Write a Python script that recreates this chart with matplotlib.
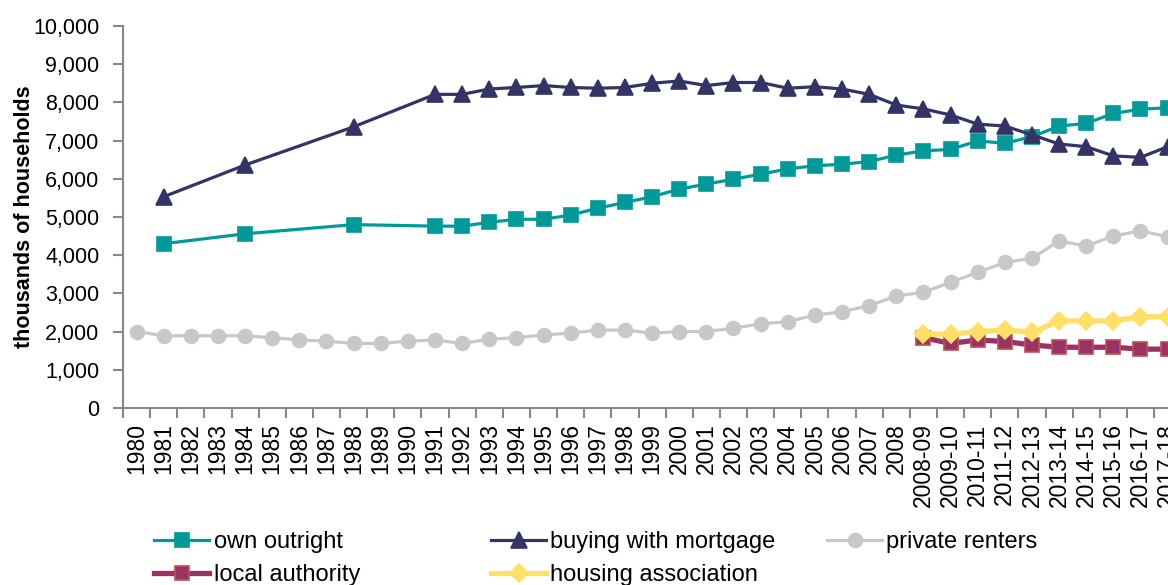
import numpy as np
import matplotlib.pyplot as plt
from matplotlib.ticker import FuncFormatter, FixedLocator

plt.rcParams['font.family'] = ['Liberation Sans', 'DejaVu Sans']

# categories (years, then financial years)
years = [str(y) for y in range(1980, 2009)] + [
    '2008-09', '2009-10', '2010-11', '2011-12', '2012-13',
    '2013-14', '2014-15', '2015-16', '2016-17', '2017-18']

nan = np.nan
# thousands of households
own_outright = [nan, 4300, nan, nan, 4560, nan, nan, nan, 4800, nan, nan, 4760, 4760, 4860,
                4940, 4940, 5050, 5230, 5380, 5530, 5730, 5860, 5990, 6120, 6260, 6340, 6380,
                6450, 6620, 6730, 6770, 6990, 6930, 7100, 7380, 7450, 7710, 7820, 7860]
mortgage = [nan, 5530, nan, nan, 6360, nan, nan, nan, 7360, nan, nan, 8210, 8210, 8350,
            8390, 8440, 8390, 8370, 8390, 8500, 8560, 8440, 8520, 8520, 8370, 8410, 8350,
            8210, 7930, 7830, 7670, 7430, 7380, 7150, 6910, 6840, 6600, 6560, 6840]
private_renters = [2000, 1890, 1890, 1890, 1890, 1840, 1780, 1750, 1690, 1690, 1750, 1780, 1690, 1800,
                   1840, 1910, 1960, 2040, 2040, 1960, 2000, 2000, 2090, 2200, 2260, 2430, 2520,
                   2680, 2930, 3030, 3290, 3550, 3810, 3920, 4370, 4240, 4500, 4640, 4480]
local_authority = [nan] * 29 + [1840, 1690, 1780, 1740, 1650, 1590, 1590, 1590, 1540, 1540]
housing_assoc = [nan] * 29 + [1930, 1930, 2000, 2040, 1980, 2280, 2280, 2280, 2390, 2390]

x = np.arange(len(years))

fig = plt.figure(figsize=(11.68, 5.85), dpi=100)
ax = fig.add_axes([0.1053, 0.3026, 0.906, 0.653])

def draw(vals, color, marker, ms, lw, mec=None, label=None):
    v = np.array(vals, dtype=float)
    m = ~np.isnan(v)
    line, = ax.plot(x[m], v[m], color=color, lw=lw, marker=marker, ms=ms,
                    mfc=color, mec=mec or color, mew=1.2, label=label, clip_on=False)
    return line

h_own = draw(own_outright, '#009999', 's', 10.5, 2.3, label='own outright')
h_mort = draw(mortgage, '#333366', '^', 12, 2.3, label='buying with mortgage')
h_priv = draw(private_renters, '#C8C8C8', 'o', 10, 2.3, label='private renters')
h_la = draw(local_authority, '#993366', 's', 10.5, 3.8, mec='#C0504D', label='local authority')
h_ha = draw(housing_assoc, '#FFE066', 'D', 9, 3.8, label='housing association')

ax.set_xlim(-0.5, len(years) - 0.5)
ax.set_ylim(0, 10000)
ax.set_yticks(np.arange(0, 10001, 1000))
ax.yaxis.set_major_formatter(FuncFormatter(lambda v, p: f'{int(v):,}'))
ax.set_xticks(x)
ax.set_xticklabels(years, rotation=90)
ax.xaxis.set_minor_locator(FixedLocator(np.arange(-0.5, len(years), 1)))
ax.tick_params(axis='x', which='major', length=0, pad=11, labelsize=16.5)
ax.tick_params(axis='x', which='minor', length=7, width=1.5, color='#888888')
ax.tick_params(axis='y', length=7, width=1.5, color='#888888', labelsize=15.5, pad=10)

for s in ['top', 'right']:
    ax.spines[s].set_visible(False)
for s in ['left', 'bottom']:
    ax.spines[s].set_color('#888888')
    ax.spines[s].set_linewidth(1.5)

ax.set_ylabel('thousands of households', fontsize=15.5, fontweight='bold', labelpad=-1)

# legend: three columns placed like the original
cols = [([h_own, h_la], 154), ([h_mort, h_ha], 491), ([h_priv], 827)]
for hs, px in cols:
    leg = fig.legend(handles=hs, loc='upper left', bbox_to_anchor=(px / 1168, 1 - 531 / 585),
                     frameon=False, fontsize=17, handlelength=2.35, handletextpad=0.17,
                     labelspacing=0.48, borderaxespad=0, borderpad=0)

fig.savefig('out.png', dpi=100)
